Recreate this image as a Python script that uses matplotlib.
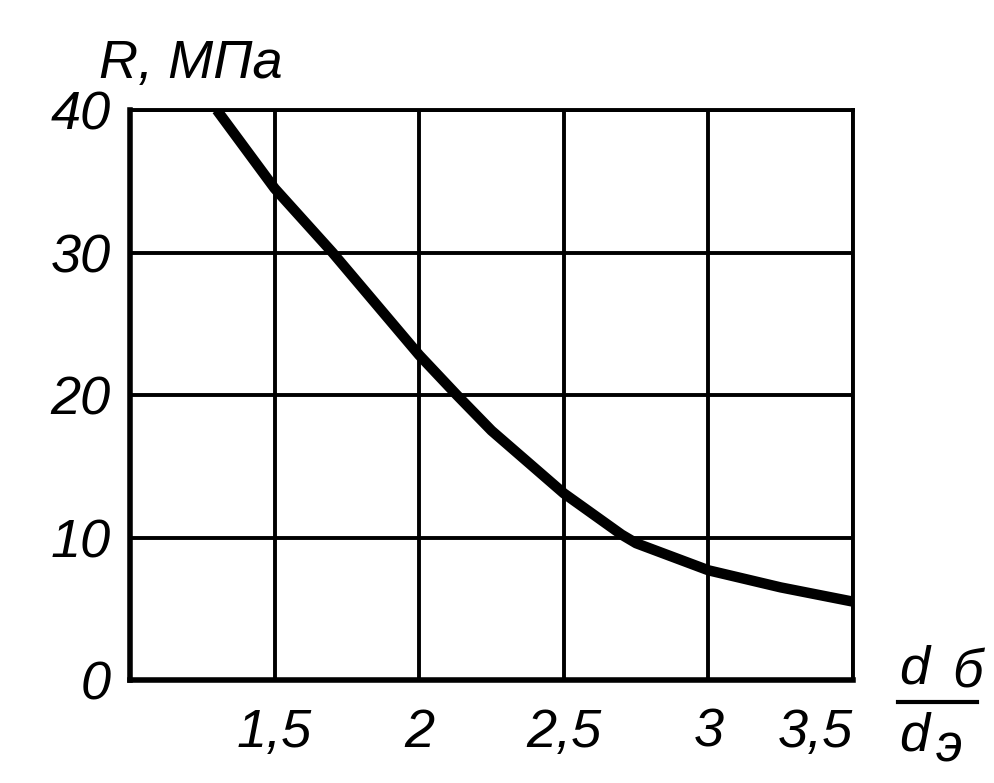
import matplotlib.pyplot as plt
from matplotlib.lines import Line2D

# values
ratio = [1.30, 1.50, 1.70, 2.00, 2.13, 2.25, 2.50, 2.70, 2.75, 3.00, 3.25, 3.50]
r_mpa = [40.0, 34.5, 30.0, 22.8, 20.0, 17.5, 13.1, 10.2, 9.6, 7.7, 6.5, 5.5]

x_ticks = [1.5, 2, 2.5, 3, 3.5]
x_labels = ["1,5", "2", "2,5", "3", "3,5"]
y_ticks = [0, 10, 20, 30, 40]
y_labels = ["0", "10", "20", "30", "40"]

font = dict(family=["Liberation Sans", "DejaVu Sans"], style="italic", size=39)

fig = plt.figure(figsize=(9.94, 7.83), dpi=100)
ax = fig.add_axes([0.1308, 0.1315, 0.7274, 0.728])

ax.plot(ratio, r_mpa, color="black", lw=7.5, solid_capstyle="butt", zorder=3)

ax.set_xlim(1, 3.5)
ax.set_ylim(0, 40)
ax.set_xticks(x_ticks)
ax.set_xticklabels(x_labels, fontdict=font)
ax.set_yticks(y_ticks)
ax.set_yticklabels(y_labels, fontdict=font)
ax.tick_params(length=0, pad=14)
ax.tick_params(axis="x", pad=20)
ax.get_xticklabels()[-1].set_horizontalalignment("right")

ax.grid(True, color="black", lw=2.8)
ax.set_axisbelow(True)
for side in ["top", "right"]:
    ax.spines[side].set_linewidth(2.8)
for side in ["left", "bottom"]:
    ax.spines[side].set_linewidth(4)

fig.text(0.10, 0.918, "R, МПа", fontdict=font, va="center")

# fraction label d_б / d_э
fig.text(0.92, 0.145, "d", fontdict=font, va="center", ha="center")
fig.text(0.973, 0.14, "б", fontdict=font, va="center", ha="center")
fig.add_artist(Line2D([0.903, 0.983], [0.103, 0.103], transform=fig.transFigure,
                      color="black", lw=3))
fig.text(0.92, 0.06, "d", fontdict=font, va="center", ha="center")
fig.text(0.955, 0.045, "э", fontdict=font, va="center", ha="center")

fig.savefig("out.png", dpi=100, facecolor="white")
